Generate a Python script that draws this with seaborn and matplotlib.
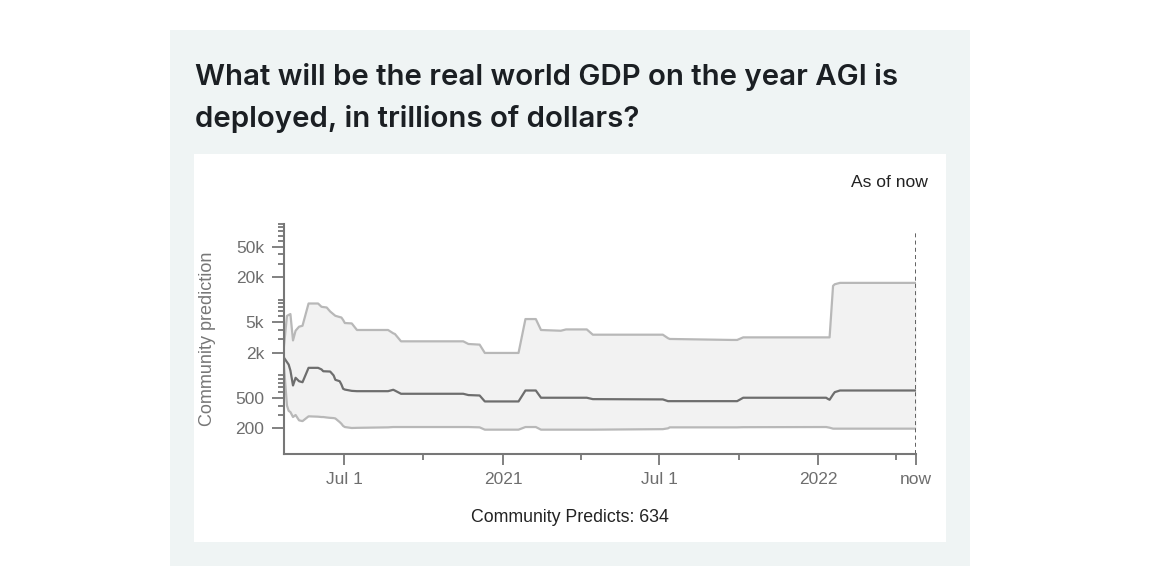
import pandas as pd
import numpy as np
import matplotlib
matplotlib.use("Agg")
import matplotlib.pyplot as plt
import matplotlib.dates as mdates
from matplotlib.patches import Rectangle
from matplotlib.ticker import FixedLocator, NullFormatter
import seaborn as sns

dates = [
    "2020-04-22", "2020-04-26", "2020-04-28", "2020-04-30", "2020-05-03",
    "2020-05-06", "2020-05-10", "2020-05-14", "2020-05-21", "2020-06-01",
    "2020-06-05", "2020-06-07", "2020-06-11", "2020-06-15", "2020-06-19",
    "2020-06-21", "2020-06-26", "2020-06-28", "2020-06-30", "2020-07-02",
    "2020-07-10", "2020-07-16", "2020-08-21", "2020-08-27", "2020-08-29",
    "2020-09-05", "2020-11-16", "2020-11-22", "2020-12-05", "2020-12-11",
    "2021-01-19", "2021-01-27", "2021-02-08", "2021-02-14", "2021-03-09",
    "2021-03-15", "2021-04-08", "2021-04-15", "2021-07-05", "2021-07-11",
    "2021-07-13", "2021-09-23", "2021-09-29", "2021-10-06", "2022-01-10",
    "2022-01-12", "2022-01-14", "2022-01-18", "2022-01-20", "2022-01-26",
    "2022-04-24",
]
upper = [
    2100, 6100, 6300, 6460, 2900, 3900, 4400, 4530, 8910, 8910,
    8060, 8000, 7890, 6990, 6400, 6130, 5900, 5820, 5400, 4920,
    4860, 3980, 3980, 3600, 3520, 2820, 2820, 2600, 2550, 1980,
    1980, 5550, 5550, 3980, 3890, 4050, 4050, 3450, 3450, 3100,
    3030, 2940, 2940, 3180, 3180, 3180, 3180, 15230, 16000, 16680,
    16680,
]
median = [
    1750, 1500, 1390, 1160, 736, 930, 838, 813, 1259, 1259,
    1200, 1135, 1130, 1125, 1000, 875, 838, 760, 666, 650,
    625, 619, 619, 646, 630, 572, 572, 550, 543, 453,
    453, 632, 632, 507, 507, 507, 507, 486, 482, 457,
    457, 457, 457, 507, 507, 490, 477, 560, 601, 632,
    632,
]
lower = [
    1600, 400, 340, 328, 282, 300, 255, 249, 288, 285,
    282, 282, 278, 275, 273, 270, 242, 230, 215, 208,
    202, 203, 206, 208, 208, 208, 208, 208, 206, 192,
    192, 208, 208, 192, 192, 192, 192, 192, 195, 200,
    206, 206, 206, 207, 208, 206, 204, 198, 198, 198,
    198,
]

y_ticks = [200, 500, 2000, 5000, 20000, 50000]
y_tick_labels = ["200", "500", "2k", "5k", "20k", "50k"]
x_tick_dates = ["2020-07-01", "2021-01-01", "2021-07-01", "2022-01-01"]
x_tick_labels = ["Jul 1", "2021", "Jul 1", "2022"]
x_minor_dates = ["2020-10-01", "2021-04-01", "2021-10-01", "2022-04-01"]
title = "What will be the real world GDP on the year AGI is\ndeployed, in trillions of dollars?"
predicts = 634

df = pd.DataFrame({"date": pd.to_datetime(dates), "upper": upper,
                   "median": median, "lower": lower})
now = df["date"].iloc[-1]

sns.set_theme(style="ticks")
plt.rcParams["font.family"] = ["Liberation Sans", "DejaVu Sans"]

fig = plt.figure(figsize=(11.62, 5.84), dpi=100)
fig.patch.set_facecolor("white")
fig.patches.append(Rectangle((170 / 1162, 1 - 566 / 584), 800 / 1162, 536 / 584,
                             transform=fig.transFigure, facecolor="#eff4f4",
                             edgecolor="none", zorder=-10))
fig.patches.append(Rectangle((194 / 1162, 1 - 542 / 584), 752 / 1162, 388 / 584,
                             transform=fig.transFigure, facecolor="white",
                             edgecolor="none", zorder=-9))

ax = fig.add_axes([283.5 / 1162, 1 - 453.5 / 584, 632.5 / 1162, 229.5 / 584])
ax.set_facecolor("none")
ax.set_zorder(5)

ax.fill_between(df["date"], df["lower"], df["upper"], color="#f2f2f2", lw=0)
sns.lineplot(data=df, x="date", y="upper", ax=ax, color="#b8b8b8", lw=1.6)
sns.lineplot(data=df, x="date", y="lower", ax=ax, color="#b8b8b8", lw=1.6)
sns.lineplot(data=df, x="date", y="median", ax=ax, color="#6e6e6e", lw=1.6)
ax.axvline(now, ymin=0, ymax=0.96, color="#555555", lw=1.3, ls=(0, (2.2, 1.8)))

ax.set_yscale("log")
ax.set_ylim(93, 100000)
ax.set_xlim(df["date"].iloc[0], now)

ax.yaxis.set_major_locator(FixedLocator(y_ticks))
ax.set_yticklabels(y_tick_labels)
minor = [m * 10 ** e for e in range(2, 5) for m in range(1, 10)
         if m * 10 ** e >= 200 and m * 10 ** e not in y_ticks] + [100000]
ax.yaxis.set_minor_locator(FixedLocator(minor))
ax.yaxis.set_minor_formatter(NullFormatter())

ax.set_xticks(list(pd.to_datetime(x_tick_dates)) + [now])
ax.set_xticklabels(x_tick_labels + ["now"])
ax.set_xticks(pd.to_datetime(x_minor_dates), minor=True)

for s in ["top", "right"]:
    ax.spines[s].set_visible(False)
for s in ["left", "bottom"]:
    ax.spines[s].set_color("#777777")
    ax.spines[s].set_linewidth(1.5)
ax.tick_params(axis="both", which="major", length=8, width=1.3, color="#777777",
               labelcolor="#6e6e6e", labelsize=12.5, pad=5)
ax.tick_params(axis="both", which="minor", length=4, width=1.3, color="#777777")
ax.tick_params(axis="y", which="major", length=9)
ax.set_xlabel("")
ax.set_ylabel("Community prediction", color="#777777", fontsize=13, labelpad=14)

fig.text(195 / 1162, 1 - 127 / 584, title, ha="left", va="baseline", fontsize=21.2,
         family=["Inter", "DejaVu Sans"], fontweight="semibold", color="#1b1f23",
         linespacing=1.62)
fig.text(928 / 1162, 1 - 187 / 584, "As of now", ha="right", va="baseline",
         fontsize=12.6, color="#222222")
fig.text(570 / 1162, 1 - 522 / 584, f"Community Predicts: {predicts}",
         ha="center", va="baseline", fontsize=12.8, color="#222222")

fig.savefig("out.png", dpi=100)
